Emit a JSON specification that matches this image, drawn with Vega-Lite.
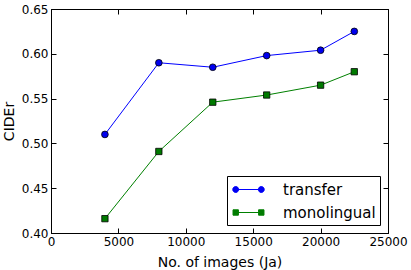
{
  "$schema": "https://vega.github.io/schema/vega-lite/v6.json",
  "autosize": "none",
  "width": 337,
  "height": 224,
  "padding": {"left": 51, "top": 9, "right": 23, "bottom": 37},
  "background": "white",
  "config": {
    "font": "DejaVu Sans",
    "view": {"stroke": "black", "strokeWidth": 1},
    "axis": {
      "grid": false,
      "domainColor": "black",
      "tickColor": "black",
      "labelColor": "black",
      "titleColor": "black",
      "labelFont": "DejaVu Sans",
      "titleFont": "DejaVu Sans",
      "labelFontSize": 12,
      "titleFontSize": 14,
      "titleFontWeight": "normal",
      "tickSize": -5,
      "labelPadding": 8,
      "labelOverlap": false,
      "labelBound": false,
      "labelFlush": false
    }
  },
  "data": {
    "values": [
      {"images": 4000, "cider": 0.510, "model": "transfer"},
      {"images": 8000, "cider": 0.590, "model": "transfer"},
      {"images": 12000, "cider": 0.585, "model": "transfer"},
      {"images": 16000, "cider": 0.598, "model": "transfer"},
      {"images": 20000, "cider": 0.604, "model": "transfer"},
      {"images": 22500, "cider": 0.625, "model": "transfer"},
      {"images": 4000, "cider": 0.416, "model": "monolingual"},
      {"images": 8000, "cider": 0.491, "model": "monolingual"},
      {"images": 12000, "cider": 0.546, "model": "monolingual"},
      {"images": 16000, "cider": 0.554, "model": "monolingual"},
      {"images": 20000, "cider": 0.565, "model": "monolingual"},
      {"images": 22500, "cider": 0.580, "model": "monolingual"}
    ]
  },
  "resolve": {"axis": {"x": "independent", "y": "independent"}},
  "layer": [
    {
      "transform": [{"filter": "datum.model === 'transfer'"}],
      "mark": {"type": "line", "color": "#0000ff", "strokeWidth": 1},
      "encoding": {
        "x": {"field": "images", "type": "quantitative",
              "scale": {"domain": [0, 25000], "nice": false, "zero": false},
              "axis": {"orient": "bottom", "values": [0, 5000, 10000, 15000, 20000, 25000], "format": "d", "title": "No. of images (Ja)", "titlePadding": 8}},
        "y": {"field": "cider", "type": "quantitative",
              "scale": {"domain": [0.4, 0.65], "nice": false, "zero": false},
              "axis": {"orient": "left", "values": [0.4, 0.45, 0.5, 0.55, 0.6, 0.65], "format": ".2f", "title": "CIDEr", "titlePadding": 5}}
      }
    },
    {
      "transform": [{"filter": "datum.model === 'monolingual'"}],
      "mark": {"type": "line", "color": "#008000", "strokeWidth": 1},
      "encoding": {
        "x": {"field": "images", "type": "quantitative",
              "scale": {"domain": [0, 25000], "nice": false, "zero": false},
              "axis": {"orient": "top", "values": [0, 5000, 10000, 15000, 20000, 25000], "labels": false, "title": null}},
        "y": {"field": "cider", "type": "quantitative",
              "scale": {"domain": [0.4, 0.65], "nice": false, "zero": false},
              "axis": {"orient": "right", "values": [0.4, 0.45, 0.5, 0.55, 0.6, 0.65], "labels": false, "title": null}}
      }
    },
    {
      "transform": [{"filter": "datum.model === 'transfer'"}],
      "mark": {"type": "point", "shape": "circle", "filled": true, "fill": "#0000ee", "stroke": "black", "strokeWidth": 0.8, "size": 45, "opacity": 1},
      "encoding": {
        "x": {"field": "images", "type": "quantitative", "axis": null},
        "y": {"field": "cider", "type": "quantitative", "axis": null}
      }
    },
    {
      "transform": [{"filter": "datum.model === 'monolingual'"}],
      "mark": {"type": "point", "shape": "square", "filled": true, "fill": "#007a00", "stroke": "black", "strokeWidth": 0.8, "size": 40, "opacity": 1},
      "encoding": {
        "x": {"field": "images", "type": "quantitative", "axis": null},
        "y": {"field": "cider", "type": "quantitative", "axis": null}
      }
    },
    {
      "transform": [{"filter": "false"}],
      "mark": {"type": "point", "filled": true, "opacity": 1, "strokeWidth": 1},
      "encoding": {
        "fill": {"field": "model", "type": "nominal",
                 "scale": {"domain": ["transfer", "monolingual"], "range": ["#0000ee", "#007a00"]},
                 "legend": {
                   "title": null,
                   "orient": "bottom-right",
                   "offset": 8,
                   "padding": 4,
                   "strokeColor": "black",
                   "fillColor": "white",
                   "cornerRadius": 0,
                   "symbolSize": 324,
                   "symbolOffset": 8,
                   "symbolStrokeWidth": 1,
                   "labelOffset": 25,
                   "labelFont": "DejaVu Sans",
                   "labelFontSize": 15,
                   "labelColor": "black",
                   "rowPadding": 5
                 }},
        "stroke": {"field": "model", "type": "nominal",
                   "scale": {"domain": ["transfer", "monolingual"], "range": ["#0000ff", "#008000"]}},
        "shape": {"field": "model", "type": "nominal",
                  "scale": {"domain": ["transfer", "monolingual"],
                            "range": [
                              "M-1.42,0L1.42,0M-1.75,0A0.33,0.33 0 1,0 -1.09,0A0.33,0.33 0 1,0 -1.75,0ZM1.09,0A0.33,0.33 0 1,0 1.75,0A0.33,0.33 0 1,0 1.09,0Z",
                              "M-1.42,0L1.42,0M-1.72,-0.3H-1.12V0.3H-1.72ZM1.12,-0.3H1.72V0.3H1.12Z"
                            ]}}
      }
    }
  ]
}
